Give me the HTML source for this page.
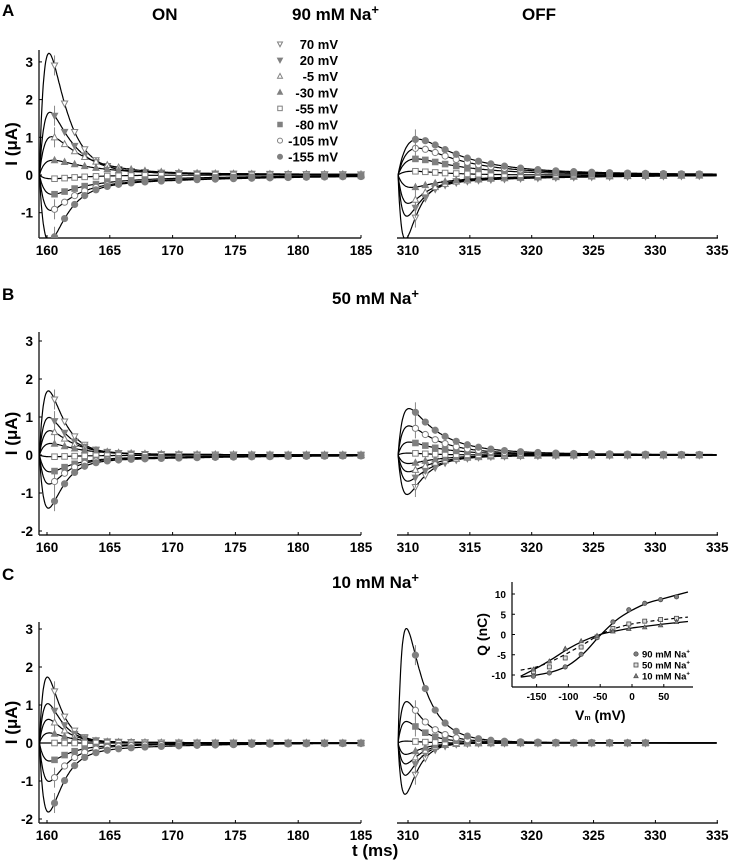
<!DOCTYPE html>
<html><head><meta charset="utf-8"><style>
body{margin:0;background:#fff}
svg{display:block;font-family:"Liberation Sans",Arial,sans-serif;font-weight:bold}
</style></head><body>
<svg id="s" width="729" height="861" viewBox="0 0 729 861" xmlns="http://www.w3.org/2000/svg">
<text x="2" y="16" font-size="17">A</text>
<text x="152" y="20" font-size="17">ON</text>
<text x="292" y="20" font-size="17">90 mM Na<tspan font-size="13" dy="-6">+</tspan></text>
<text x="522" y="20" font-size="17">OFF</text>
<text x="2" y="300" font-size="17">B</text>
<text x="332" y="304" font-size="17">50 mM Na<tspan font-size="13" dy="-6">+</tspan></text>
<text x="2" y="580" font-size="17">C</text>
<text x="332" y="588" font-size="17">10 mM Na<tspan font-size="13" dy="-6">+</tspan></text>
<text x="352" y="856" font-size="17">t (ms)</text>
</svg>
<script>
const S=document.getElementById('s'),NS='http://www.w3.org/2000/svg';
function el(t,a,p){const e=document.createElementNS(NS,t);for(const k in a)e.setAttribute(k,a[k]);(p||S).appendChild(e);return e}
function tx(x,y,s,fs,anchor,p){const e=el('text',{x,y,'font-size':fs,'text-anchor':anchor||'middle'},p);e.textContent=s;return e}
const shapes=['tridown','tridownF','triup','triupF','sq','sqF','circ','circF'];
function marker(g,type,x,y,sz){const c='#808080';const f=type.endsWith('F');const fill=f?c:'#fff';const b=type.replace('F','');sz=sz||3.1;
 if(b=='circ')el('circle',{cx:x,cy:y,r:sz,fill,stroke:c,'stroke-width':1},g);
 else if(b=='sq')el('rect',{x:x-sz*0.9,y:y-sz*0.9,width:sz*1.8,height:sz*1.8,fill,stroke:c,'stroke-width':1},g);
 else if(b=='triup')el('polygon',{points:`${x},${y-sz*1.1} ${x-sz},${y+sz*0.8} ${x+sz},${y+sz*0.8}`,fill,stroke:c,'stroke-width':1},g);
 else el('polygon',{points:`${x},${y+sz*1.1} ${x-sz},${y-sz*0.8} ${x+sz},${y-sz*0.8}`,fill,stroke:c,'stroke-width':1},g);}
let cid=0;
function panel(P){
 const id='c'+(cid++);
 const cp=el('clipPath',{id});el('rect',{x:P.ax0,y:P.yTop-5,width:P.ax1-P.ax0+4,height:P.yBot-P.yTop+5},cp);
 el('line',{x1:P.ax0,y1:P.yBot,x2:P.ax1,y2:P.yBot,stroke:'#222','stroke-width':1.4});
 for(let i=0;i<6;i++){const x=P.x0+i*5*P.sx;el('line',{x1:x,y1:P.yBot,x2:x,y2:P.yBot-3,stroke:'#000'});tx(x,P.yBot+17,String(P.t0+i*5),13.5);}
 if(P.yaxis){el('line',{x1:P.ax0,y1:P.yTop,x2:P.ax0,y2:P.yBot,stroke:'#222','stroke-width':1.4});}
 if(P.ylabels){for(const v of P.yt){const y=P.y0-v*P.sy;el('line',{x1:P.ax0,y1:y,x2:P.ax0+3,y2:y,stroke:'#000'});tx(P.ax0-6,y+5,String(v),13.5,'end');}
   const t=tx(0,0,'I (μA)',17);t.setAttribute('transform',`translate(${P.ax0-22},${(P.yTop+P.yBot)/2}) rotate(-90)`);}
 const g=el('g',{'clip-path':`url(#${id})`});
 const ts=P.ts;
 P.curves.forEach((c,i)=>{
  const [A,td,T,tl]=c;const tr=c[4]||P.tr;
  const g0=dt=>Math.exp(-dt/td)-Math.exp(-dt/tr);
  let mx=0;for(let d=0;d<10;d+=0.01)mx=Math.max(mx,g0(d));
  const f=dt=>dt<=0?0:A*g0(dt)/mx+T*Math.exp(-dt/tl)*(1-Math.exp(-dt/tr));
  let pts=[];for(let t=ts;t<=P.tend;t+=0.05){pts.push(`${(P.x0+(t-P.t0)*P.sx).toFixed(1)},${(P.y0-f(t-ts)*P.sy).toFixed(1)}`)}
  el('polyline',{points:pts.join(' '),fill:'none',stroke:'#000','stroke-width':1.2},g);
  for(const mt of P.mk){if(mt>P.mend)continue;const x=P.x0+(mt-P.t0)*P.sx,y=P.y0-f(mt-ts)*P.sy;
   if(mt<ts+1.8&&Math.abs(A)>0.5)el('line',{x1:x,y1:y-10,x2:x,y2:y+10,stroke:'#888','stroke-width':1},g);
   marker(g,shapes[i],x,y);}
 });
}
function mks(s,e){const a=[];let t=s+0.6;const st=[0.8,0.8,0.8,0.9,0.9,0.9,1.0,1.1,1.3,1.4];let k=0;while(t<e){a.push(t);t+=k<st.length?st[k]:1.45;k++}return a}
const L={t0:160,x0:47,sx:12.56,ax0:39,ax1:361,ts:159.4,tend:185,mend:185,yaxis:1,ylabels:1,tr:0.45};
const R={t0:310,x0:408,sx:12.37,ax0:397,ax1:718,ts:309.2,tend:335,mend:334.5,yaxis:0,ylabels:0,tr:0.4};
const Ay={y0:175,sy:37.7,yTop:50,yBot:238,yt:[-1,0,1,2,3]};
panel(Object.assign({},L,Ay,{mk:mks(160,185),curves:[[3.15,1.4,0.1,15],[1.6,1.8,0.08,15],[0.95,2.6,0.08,15],[0.35,3.5,0.05,15],[-0.1,3,0,15],[-0.35,2.5,-0.2,12],[-0.7,1.8,-0.3,12],[-1.5,1.4,-0.35,12]]}));
panel(Object.assign({},R,Ay,{mk:mks(310,335),curves:[[-1.55,1.0,-0.2,10,0.35],[-0.9,1.2,-0.25,10,0.4],[-0.6,1.4,-0.2,10,0.45],[-0.25,2.5,-0.1,12,0.5],[0.1,3,0,15,0.6],[0.35,3.5,0.1,12,0.7],[0.6,3.5,0.15,12,0.8],[0.8,3.5,0.2,12,0.8]]}));
const By={y0:455,sy:38,yTop:332,yBot:535,yt:[-2,-1,0,1,2,3]};
panel(Object.assign({},L,By,{mk:mks(160,185),curves:[[1.65,1.2,0.05,10],[0.95,1.4,0.05,10],[0.6,1.7,0.05,10],[0.28,2.2,0.03,10],[-0.03,2,-0.02,10],[-0.35,1.6,-0.12,12],[-0.65,1.3,-0.15,12],[-1.25,1.1,-0.2,12]]}));
panel(Object.assign({},R,By,{mk:mks(310,335),curves:[[-1.0,1.5,-0.05,10],[-0.65,1.8,-0.05,10],[-0.4,2,-0.05,10],[-0.2,2.2,-0.03,10],[0.05,2,0,10],[0.3,2.5,0.05,10],[0.7,2.4,0.08,10],[1.1,2.4,0.15,10]]}));
const Cy={y0:743,sy:38,yTop:622,yBot:823,yt:[-2,-1,0,1,2,3]};
panel(Object.assign({},L,Cy,{mk:mks(160,185),curves:[[1.7,0.9,0.05,8],[1.0,1.0,0.05,8],[0.6,1.2,0.03,8],[0.25,1.5,0.02,8],[0,1.5,0,8],[-0.4,1.5,-0.1,8],[-0.9,1.3,-0.15,8],[-1.6,1.1,-0.3,8]]}));
panel(Object.assign({},R,Cy,{tr:0.35,mend:329.5,mk:mks(310,330),curves:[[-1.35,1.0,0,8],[-0.85,1.1,0,8],[-0.55,1.2,0,8],[-0.3,1.3,0,8],[0.05,1.5,0,8],[0.55,1.5,0.02,8],[1.05,1.6,0.05,8],[2.95,1.5,0.08,8]]}));
const lab=['70 mV','20 mV','-5 mV','-30 mV','-55 mV','-80 mV','-105 mV','-155 mV'];
lab.forEach((l,i)=>{const y=44+i*16.1;marker(S,shapes[i],280,y,2.5);tx(338,y+5,l,13,'end');});
const ix0=632,isx=0.636,iy0=634.5,isy=4.05,iL=512,iR=693,iT=582,iB=687;
const X=v=>ix0+v*isx,Y=q=>iy0-q*isy;
el('line',{x1:iL,y1:iT,x2:iL,y2:iB,stroke:'#000','stroke-width':1.2});
el('line',{x1:iL,y1:iB,x2:iR,y2:iB,stroke:'#000','stroke-width':1.2});
[-150,-100,-50,0,50].forEach(v=>{el('line',{x1:X(v),y1:iB,x2:X(v),y2:iB-3,stroke:'#000'});tx(X(v),iB+13,String(v),10);});
[-10,-5,0,5,10].forEach(q=>{el('line',{x1:iL,y1:Y(q),x2:iL+3,y2:Y(q),stroke:'#000'});tx(iL-6,Y(q)+4,String(q),10,'end');});
{const t=tx(0,0,'Q (nC)',14);t.setAttribute('transform',`translate(${iL-25},${(iT+iB)/2}) rotate(-90)`);}
{const t=el('text',{x:575,y:720,'font-size':14});t.innerHTML='V<tspan font-size="7">m</tspan> (mV)';}
const cv={c90:[[-175,-10.5],[-150,-10],[-125,-9.2],[-100,-7.6],[-75,-4.5],[-50,-0.2],[-25,3.5],[0,6],[25,7.8],[50,8.9],[88,10.5]],
 c50:[[-175,-8.8],[-150,-8],[-125,-6.5],[-100,-4.5],[-75,-2.3],[-50,0],[-25,1.6],[0,2.6],[25,3.2],[50,3.7],[88,4.3]],
 c10:[[-175,-10.3],[-150,-8.3],[-125,-6],[-100,-3.5],[-75,-1.5],[-50,0],[-25,0.9],[0,1.6],[25,2.1],[50,2.6],[88,3.2]]};
function smooth(p){let d=`M${X(p[0][0])},${Y(p[0][1])}`;for(let i=0;i<p.length-1;i++){const p0=p[Math.max(0,i-1)],p1=p[i],p2=p[i+1],p3=p[Math.min(p.length-1,i+2)];
 const c1=[X(p1[0])+(X(p2[0])-X(p0[0]))/6,Y(p1[1])+(Y(p2[1])-Y(p0[1]))/6],c2=[X(p2[0])-(X(p3[0])-X(p1[0]))/6,Y(p2[1])-(Y(p3[1])-Y(p1[1]))/6];
 d+=` C${c1} ${c2} ${X(p2[0])},${Y(p2[1])}`;}return d}
el('path',{d:smooth(cv.c90),fill:'none',stroke:'#000','stroke-width':1.3});
el('path',{d:smooth(cv.c50),fill:'none',stroke:'#000','stroke-width':1.2,'stroke-dasharray':'4,3'});
el('path',{d:smooth(cv.c10),fill:'none',stroke:'#000','stroke-width':1.3});
const Vs=[-155,-130,-105,-80,-55,-30,-5,20,45,70];
const dq={c90:[-10.3,-9.5,-8,-4.9,-0.8,3.1,6.1,7.7,8.6,9.3],c50:[-9.2,-8,-5.8,-3.1,-0.6,1.5,2.6,3.3,3.7,4],c10:[-8.6,-6.6,-3.5,-1.6,-0.3,0.8,1.4,1.8,2.3,3.1]};
const ins=el('g',{});
Vs.forEach((v,i)=>{const c='#808080';
 el('circle',{cx:X(v),cy:Y(dq.c90[i]),r:2.2,fill:c,stroke:'#444','stroke-width':0.7},ins);
 el('rect',{x:X(v)-2,y:Y(dq.c50[i])-2,width:4,height:4,fill:'#ddd',stroke:'#444','stroke-width':0.8},ins);
 el('polygon',{points:`${X(v)},${Y(dq.c10[i])-2.5} ${X(v)-2.3},${Y(dq.c10[i])+1.8} ${X(v)+2.3},${Y(dq.c10[i])+1.8}`,fill:c,stroke:'#444','stroke-width':0.6},ins);});
const legI=['90 mM Na','50 mM Na','10 mM Na'];
legI.forEach((l,i)=>{const y=654+i*11;
 if(i==0)el('circle',{cx:636,cy:y,r:2.2,fill:'#808080',stroke:'#444','stroke-width':0.7});
 if(i==1)el('rect',{x:634,y:y-2,width:4,height:4,fill:'#ddd',stroke:'#444','stroke-width':0.8});
 if(i==2)el('polygon',{points:`636,${y-2.5} 633.7,${y+1.8} 638.3,${y+1.8}`,fill:'#808080',stroke:'#444','stroke-width':0.6});
 const t=el('text',{x:642,y:y+3.5,'font-size':9.5});t.innerHTML=l+'<tspan font-size="6" dy="-4">+</tspan>';});
</script>
</body></html>
